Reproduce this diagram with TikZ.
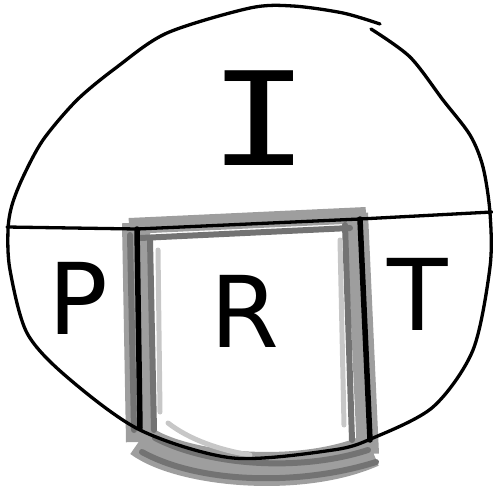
\documentclass[tikz,border=0pt]{standalone}
\usepackage{fontspec}
\setsansfont{DejaVu Sans}
\newfontfamily\barfont{DejaVu Sans Mono}
\usetikzlibrary{calc}

\begin{document}
\begin{tikzpicture}[x=1pt,y=-1pt,
    sketch/.style={line width=3.3pt,line cap=round,line join=round},
    edge ink/.style={line width=5.5pt,line cap=round},
    shade band/.style={line width=24pt,draw=black!38,line join=round},
    shade dark/.style={line width=6pt,draw=black!55,line cap=round},
    shade light/.style={line width=5pt,draw=black!22,line cap=round},
    region/.style={font=\sffamily\fontsize{99}{99}\selectfont,inner sep=0pt},
    region bar/.style={font=\barfont\fontsize{130}{130}\selectfont,inner sep=0pt,xscale=1.3}
    ]
    \useasboundingbox (0,0) rectangle (493,491);

    % shaded frame around R
    \coordinate (rtl) at (137,229);
    \coordinate (rtr) at (360,219);
    \coordinate (rbr) at (370,440);
    \coordinate (rbl) at (140,428);
    \draw[shade band,line width=28pt] ($(rtl)+(-1,-6)$) -- ($(rbl)+(0,14)$);
    \draw[shade band,line width=16pt] ($(rtl)+(-8,-3)$) -- ($(rtr)+(6,-4)$);
    \draw[shade band,line width=22pt] ($(rtr)+(-3,-6)$) -- ($(rbr)+(-2,14)$);
    \draw[shade band,line width=34pt] (140,440) .. controls (180,470) and (300,482) .. (372,450);
    \draw[shade dark] (130,235) -- (134,430);
    \draw[shade dark] (150,240) -- (154,430);
    \draw[shade dark] (345,225) -- (352,440);
    \draw[shade dark] (140,238) -- (350,228);
    \draw[shade dark] (142,452) .. controls (200,484) and (300,486) .. (376,462);
    \draw[shade dark] (155,438) .. controls (210,466) and (300,472) .. (368,450);
    \draw[shade light] (168,423) .. controls (190,440) and (220,450) .. (250,455);
    \draw[shade light] (158,250) -- (160,412);
    \draw[shade light] (340,240) -- (344,425);

    % outline, drawn as one stroke with a small overlap
    \draw[sketch] plot[smooth] coordinates {
        (371,29) (410,57) (443,100) (470,135) (483,167) (490,213) (490,267)
        (473,350) (433,407) (373,438) (333,450) (233,458) (140,430)
        (67,377) (27,333) (10,270) (8,230) (12,205) (23,177) (43,140)
        (77,100) (117,67) (167,33) (250,8) (293,6) (343,13) (380,24)};

    % divider
    \coordinate (dl) at (7,227);
    \coordinate (dr) at (492,212);
    \draw[sketch] (dl) -- (rtl) -- (rtr) -- (dr);
    \draw[edge ink] (rtl) -- (rbl);
    \draw[edge ink] (rtr) -- (rbr);

    % labels
    \node[region bar] (lblI) at (259,118) {I};
    \node[region] (lblP) at (78,298) {P};
    \node[region] (lblR) at (245,311) {R};
    \node[region] (lblT) at (418,294) {T};
\end{tikzpicture}
\end{document}
